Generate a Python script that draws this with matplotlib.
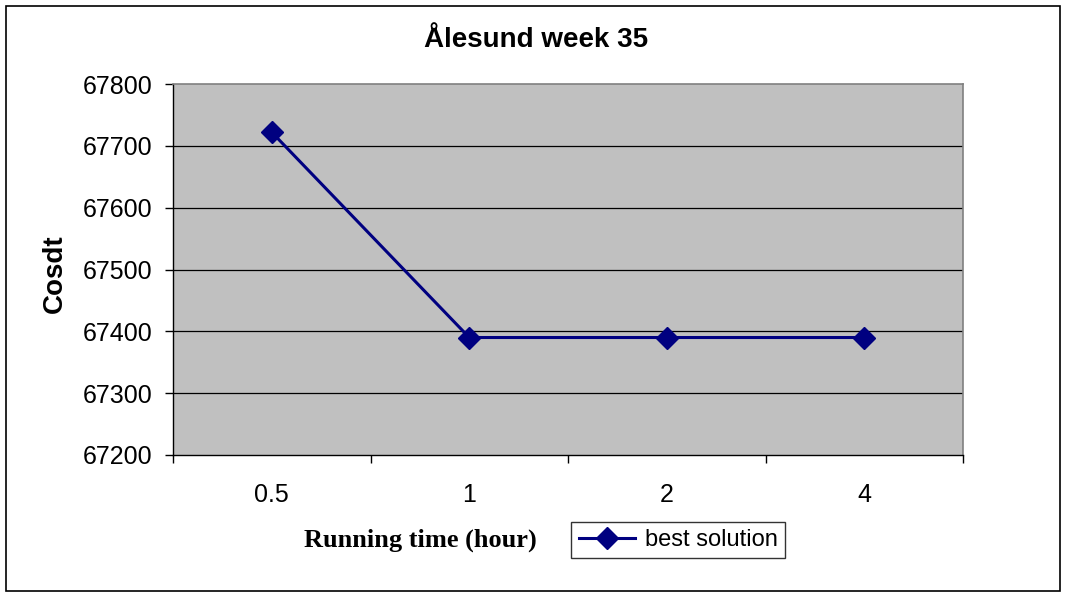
import matplotlib
matplotlib.use("Agg")
import matplotlib.pyplot as plt
from matplotlib.patches import Rectangle

categories = ["0.5", "1", "2", "4"]
best_solution = [67722, 67390, 67390, 67390]
y_ticks = [67200, 67300, 67400, 67500, 67600, 67700, 67800]

W, H = 1065, 597
fig = plt.figure(figsize=(W / 100, H / 100), dpi=100)
fig.patch.set_facecolor("white")

ax = fig.add_axes([173 / W, 1 - 455 / H, (963 - 173) / W, (455 - 84) / H])
ax.set_facecolor("#C0C0C0")

x = list(range(len(categories)))
ax.plot(x, best_solution, color="#000080", lw=2.2, marker="D", markersize=11,
        markerfacecolor="#000080", markeredgecolor="#000080", label="best solution",
        zorder=3)

ax.set_xlim(-0.5, len(categories) - 0.5)
ax.set_ylim(67200, 67800)
ax.set_yticks(y_ticks)
ax.set_yticklabels([str(v) for v in y_ticks], fontsize=18, family="Liberation Sans")
ax.set_xticks(x)
ax.set_xticklabels(categories, fontsize=18, family="Liberation Sans")
ax.tick_params(axis="x", length=0, pad=20)
ax.set_xticks([i - 0.5 for i in range(len(categories) + 1)], minor=True)
ax.tick_params(axis="x", which="minor", length=6, width=1, color="black", direction="out")
ax.tick_params(axis="y", length=6, width=1, color="black", direction="out", pad=9)

for v in y_ticks[1:-1]:
    ax.axhline(v, color="black", lw=0.9, zorder=1)

for side in ["top", "right"]:
    ax.spines[side].set_color("#808080")
    ax.spines[side].set_linewidth(1.2)
for side in ["left", "bottom"]:
    ax.spines[side].set_color("black")
    ax.spines[side].set_linewidth(1.0)

fig.text(536 / W, 1 - 40 / H, "Ålesund week 35", ha="center", va="center",
         fontsize=20, fontweight="bold", family="Liberation Sans")
fig.text(55 / W, 1 - 274 / H, "Cosdt", ha="center", va="center", rotation=90,
         fontsize=20, fontweight="bold", family="Liberation Sans")
fig.text(420 / W, 1 - 540 / H, "Running time (hour)", ha="center", va="center",
         fontsize=19, fontweight="bold", family="Liberation Serif")

leg = fig.legend(loc="center", bbox_to_anchor=(678 / W, 1 - 540 / H),
                 bbox_transform=fig.transFigure, frameon=True, fancybox=False,
                 prop={"family": "Liberation Sans", "size": 17}, handlelength=2.4,
                 borderpad=0.3, handletextpad=0.4)
leg.get_frame().set_edgecolor("black")
leg.get_frame().set_linewidth(1.0)

fig.patches.append(Rectangle((6 / W, 6 / H), (1060 - 6) / W, (591 - 6) / H,
                             transform=fig.transFigure, fill=False,
                             edgecolor="black", lw=1.2))

fig.savefig("out.png", dpi=100)
